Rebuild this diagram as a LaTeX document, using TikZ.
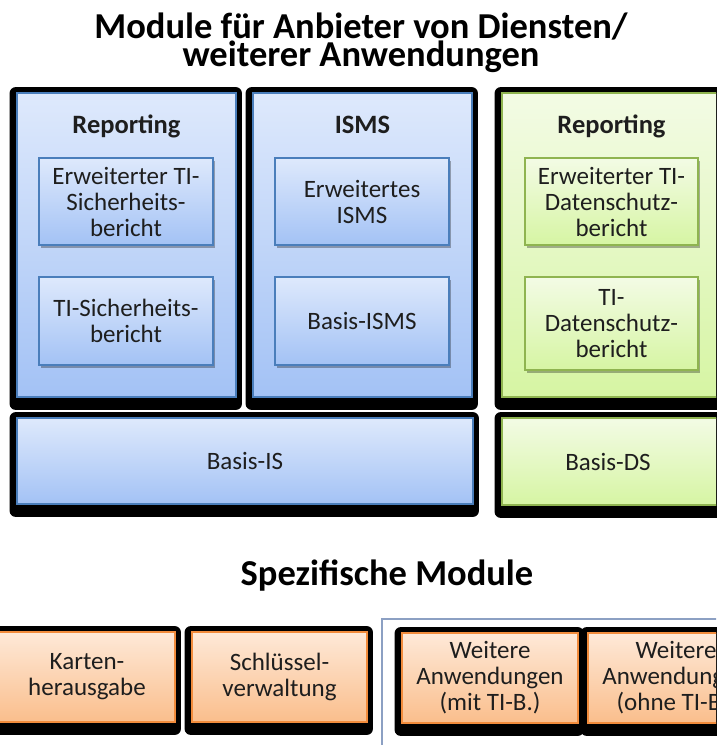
\documentclass[tikz,border=0pt]{standalone}
\usepackage{fontspec}
\setmainfont{Carlito}
\usetikzlibrary{backgrounds,shadows}
\definecolor{blueTop}{RGB}{222,233,252}
\definecolor{blueBot}{RGB}{163,194,245}
\definecolor{blueLine}{RGB}{74,126,187}
\definecolor{greenTop}{RGB}{243,251,229}
\definecolor{greenBot}{RGB}{214,245,163}
\definecolor{greenLine}{RGB}{143,180,80}
\definecolor{orangeTop}{RGB}{254,233,216}
\definecolor{orangeBot}{RGB}{250,190,140}
\definecolor{orangeLine}{RGB}{242,140,60}
\definecolor{txt}{RGB}{30,30,30}
\definecolor{frameLine}{RGB}{140,160,195}
\tikzset{
  box/.style={rectangle, line width=1.8pt, inner sep=0pt, align=center, text=txt,
    font=\fontsize{25}{26}\selectfont},
  bluebox/.style={box, draw=blueLine, top color=blueTop, bottom color=blueBot},
  greenbox/.style={box, draw=greenLine, top color=greenTop, bottom color=greenBot},
  orangebox/.style={box, draw=orangeLine, top color=orangeTop, bottom color=orangeBot},
  plaintext/.style={inner sep=0pt, align=center, text=txt, font=\fontsize{25}{26}\selectfont},
  subshadow/.style={drop shadow={shadow xshift=1.5pt, shadow yshift=-3pt, opacity=0.3, fill=black}},
  blackframe/.style={fill=black, rounded corners=6pt},
  header/.style={anchor=base, inner sep=0pt, text=txt, font=\bfseries\fontsize{26.5}{26}\selectfont},
  bigtitle/.style={inner sep=0pt, align=center, text=black, font=\bfseries\fontsize{36.5}{23.5}\selectfont},
}
\begin{document}
\begin{tikzpicture}[x=1pt,y=-1pt]
\useasboundingbox (0,0) rectangle (716,745);
\clip (0,0) rectangle (716,745);

% titles
\node[bigtitle] (title) at (361,43) {Module für Anbieter von Diensten/\\weiterer Anwendungen};
\node[bigtitle, anchor=base] (title2) at (387,585) {Spezifische Module};

% thin frame
\draw[frameLine, line width=1.3pt] (382,800) -- (382,619) -- (800,619);

% large boxes
\node[bluebox, minimum width=219pt, minimum height=304pt] (rep1) at (126.5,245) {};
\node[bluebox, minimum width=219pt, minimum height=304pt] (isms) at (362.5,245) {};
\node[greenbox, minimum width=228pt, minimum height=304pt] (rep2) at (616,245) {};
\node[bluebox, minimum width=456pt, minimum height=86pt] (basisIS) at (245,461) {Basis-IS};
\node[greenbox, minimum width=228pt, minimum height=87pt] (basisDS) at (616,461.5) {};
\node[plaintext] (basisDStext) at (608,461.5) {Basis-DS};

% headers
\node[header] (h1) at (126.5,133) {Reporting};
\node[header] (h2) at (362.5,133) {ISMS};
\node[header] (h3) at (611.5,133) {Reporting};

% inner boxes
\node[bluebox, subshadow, minimum width=174pt, minimum height=87pt] (ets) at (126,201.5) {Erweiterter TI-\\Sicherheits-\\bericht};
\node[bluebox, subshadow, minimum width=174pt, minimum height=88pt] (ts) at (126,321) {TI-Sicherheits-\\bericht};
\node[bluebox, subshadow, minimum width=174pt, minimum height=87pt] (eisms) at (362,201.5) {Erweitertes\\ISMS};
\node[bluebox, subshadow, minimum width=174pt, minimum height=88pt] (bisms) at (362,321) {Basis-ISMS};
\node[greenbox, subshadow, minimum width=173pt, minimum height=87pt] (eds) at (611.5,201.5) {Erweiterter TI-\\Datenschutz-\\bericht};
\node[greenbox, subshadow, minimum width=173pt, minimum height=93pt] (tds) at (611.5,323.5) {TI-\\Datenschutz-\\bericht};

% bottom boxes
\node[orangebox, minimum width=176pt, minimum height=90pt] (karten) at (87,677) {Karten-\\herausgabe};
\node[orangebox, minimum width=175pt, minimum height=90pt] (schl) at (279.5,677) {Schlüssel-\\verwaltung};
\node[orangebox, minimum width=176pt, minimum height=90pt] (wmit) at (490,678) {Weitere\\Anwendungen\\(mit TI-B.)};
\node[orangebox, minimum width=176pt, minimum height=90pt] (wohne) at (676,678) {Weitere\\Anwendungen\\(ohne TI-B.)};

% black frames behind
\begin{pgfonlayer}{background}
\fill[white] (0,0) rectangle (716,745);
\foreach \n in {rep1,isms,rep2,basisIS,basisDS,karten,schl,wmit,wohne}{
  \fill[blackframe] ([shift={(-6.5,-5)}]\n.north west) rectangle ([shift={(5,12)}]\n.south east);
}
\end{pgfonlayer}
\end{tikzpicture}
\end{document}
